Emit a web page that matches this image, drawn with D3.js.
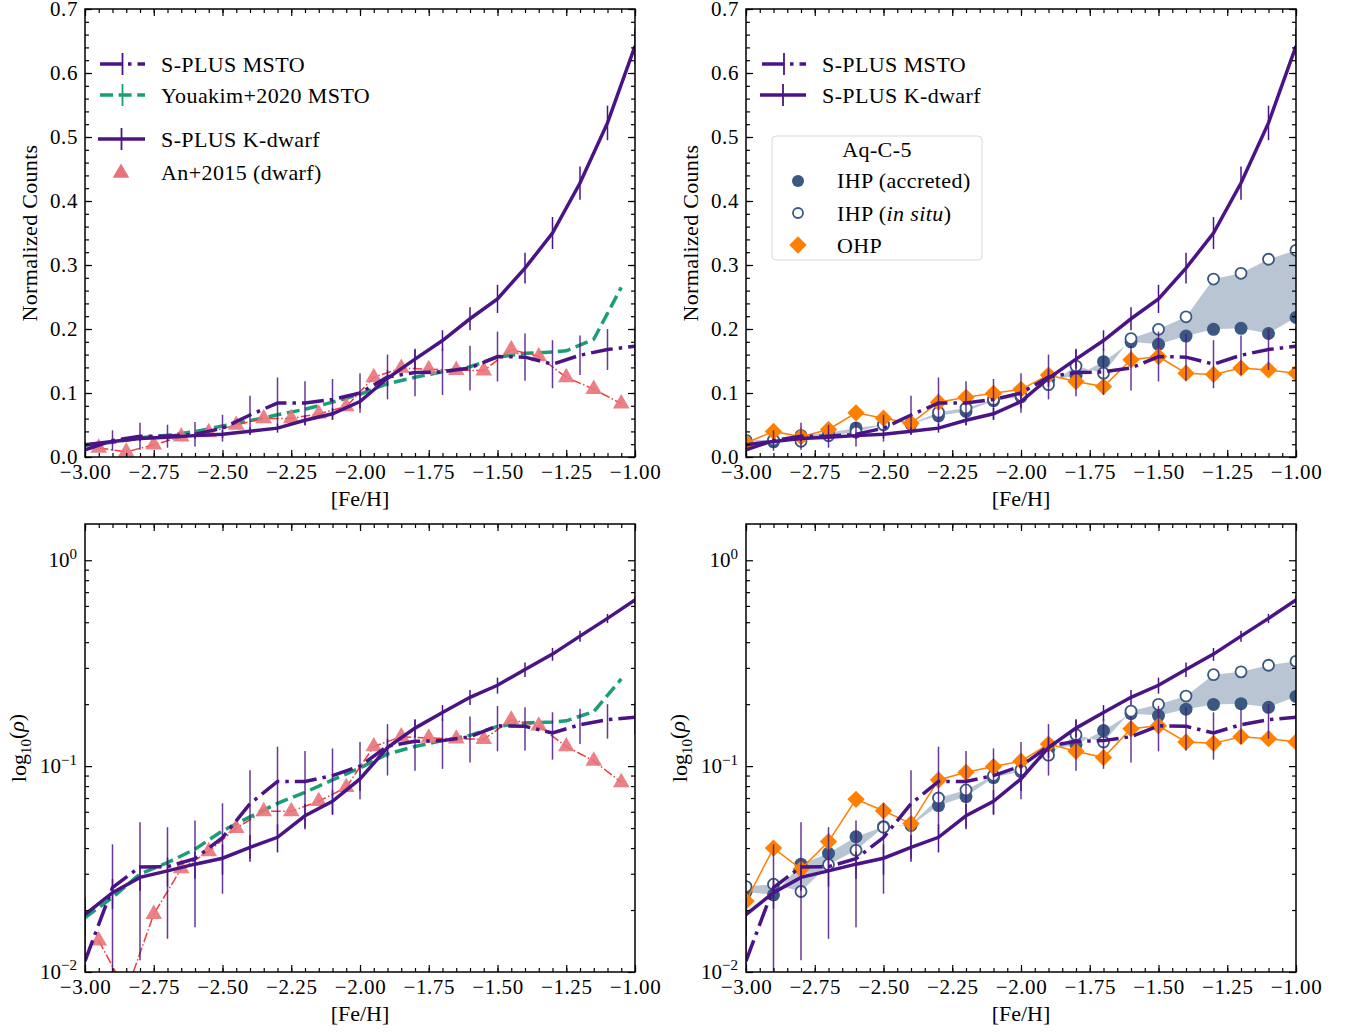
<!DOCTYPE html>
<html>
<head>
<meta charset="utf-8">
<script src="https://cdn.jsdelivr.net/npm/d3@7"></script>
<style>
  body { margin: 0; background: #fff; }
  text { font-family: "Liberation Serif", "Times New Roman", serif; fill: #000; }
</style>
</head>
<body>
<div id="chart"></div>
<script>
// bins in [Fe/H]
var feh = [-3.0, -2.9, -2.8, -2.7, -2.6, -2.5, -2.4, -2.3, -2.2, -2.1, -2.0,
           -1.9, -1.8, -1.7, -1.6, -1.5, -1.4, -1.3, -1.2, -1.1, -1.0];

// S-PLUS K-dwarf
var kdwarf    = [0.019, 0.0243, 0.0288, 0.031, 0.0334, 0.0357, 0.0403, 0.0451, 0.0574, 0.0675, 0.0867,
                 0.123, 0.153, 0.182, 0.216, 0.247, 0.295, 0.35, 0.428, 0.522, 0.642];
var kdwarfErr = [0.004, 0.004, 0.004, 0.005, 0.005, 0.006, 0.006, 0.007, 0.008, 0.009, 0.011,
                 0.013, 0.015, 0.016, 0.018, 0.022, 0.024, 0.025, 0.026, 0.027, 0.028];

// S-PLUS MSTO
var msto    = [0.0113, 0.0257, 0.0324, 0.0325, 0.0355, 0.045, 0.0656, 0.0843, 0.0843, 0.0899, 0.1,
               0.125, 0.132, 0.133, 0.139, 0.157, 0.156, 0.145, 0.159, 0.168, 0.173];
var mstoErr = [0.01, 0.016, 0.021, 0.018, 0.019, 0.021, 0.03, 0.04, 0.034, 0.032, 0.031,
               0.035, 0.037, 0.036, 0.035, 0.039, 0.037, 0.0375, 0.031, 0.032, 0.03];

// Youakim+2020 MSTO
var youFeh = [-3.0, -2.9, -2.8, -2.7, -2.6, -2.5, -2.4, -2.3, -2.2, -2.1, -2.0,
              -1.9, -1.8, -1.7, -1.6, -1.5, -1.4, -1.3, -1.25, -1.15, -1.05];
var youakim = [0.0184, 0.023, 0.0299, 0.034, 0.0395, 0.0485, 0.0567, 0.066, 0.0746, 0.0857, 0.098,
               0.1146, 0.1245, 0.133, 0.141, 0.156, 0.162, 0.164, 0.166, 0.184, 0.265];

// An+2015 (dwarf)
var anFeh = [-2.95, -2.85, -2.75, -2.65, -2.55, -2.45, -2.35, -2.25, -2.15, -2.05,
             -1.95, -1.85, -1.75, -1.65, -1.55, -1.45, -1.35, -1.25, -1.15, -1.05];
var an2015 = [0.0142, 0.008, 0.0191, 0.0318, 0.0385, 0.05, 0.0603, 0.0603, 0.0675, 0.0789,
              0.1245, 0.139, 0.137, 0.1358, 0.135, 0.168, 0.157, 0.1245, 0.106, 0.0834];

// Aq-C-5
var ihpAccreted = [0.0245, 0.0237, 0.0334, 0.0377, 0.0454, 0.0508, 0.0515, 0.0643, 0.0711, 0.088, 0.094,
                   0.12, 0.127, 0.149, 0.18, 0.176, 0.189, 0.1995, 0.201, 0.193, 0.218];
var ihpInsitu   = [0.026, 0.0267, 0.0246, 0.0332, 0.039, 0.0505, 0.052, 0.070, 0.0766, 0.09, 0.096,
                   0.113, 0.142, 0.131, 0.185, 0.1995, 0.219, 0.278, 0.287, 0.309, 0.323];
var ohp         = [0.0221, 0.040, 0.0316, 0.043, 0.069, 0.0607, 0.0526, 0.0857, 0.0933, 0.0995, 0.1057,
                   0.128, 0.118, 0.11, 0.152, 0.157, 0.131, 0.129, 0.139, 0.136, 0.131];

var xTicks = [-3.0, -2.75, -2.5, -2.25, -2.0, -1.75, -1.5, -1.25, -1.0];
var linTicks = [0.0, 0.1, 0.2, 0.3, 0.4, 0.5, 0.6, 0.7];
var logTicks = [0.01, 0.1, 1];
var logTickExp = ["\u22122", "\u22121", "0"];

var purple = "#4a1486";
var green = "#1b9e77";
var red = "#f23a3a";
var triFill = "#e8737a";
var navy = "#3a5880";
var orange = "#ff8000";

var svgWidth = 1351, svgHeight = 1034;
var pw = 550, ph = 448;

var svg = d3.select("#chart")
  .append("svg")
  .attr("width", svgWidth)
  .attr("height", svgHeight);

var panels = [
  {left: 85, top: 9, log: false, aq: false},
  {left: 746, top: 9, log: false, aq: true},
  {left: 85, top: 524, log: true, aq: false},
  {left: 746, top: 524, log: true, aq: true}
];

var xScale = d3.scaleLinear().domain([-3, -1]).range([0, pw]);

function zipPts(xs, ys) {
  return xs.map(function(x, i) { return [x, ys[i]]; });
}

panels.forEach(function(p, pi) {
  var g = svg.append("g").attr("transform", `translate(${p.left}, ${p.top})`);
  var y = p.log
    ? d3.scaleLog().domain([0.01, 1.5]).range([ph, 0])
    : d3.scaleLinear().domain([0, 0.7]).range([ph, 0]);
  var yv = function(v) { return y(p.log ? Math.max(v, 1e-4) : v); };

  g.append("clipPath").attr("id", "clip" + pi)
    .append("rect").attr("width", pw).attr("height", ph);
  var plot = g.append("g").attr("clip-path", `url(#clip${pi})`);

  var line = d3.line().x(d => xScale(d[0])).y(d => yv(d[1]));

  if (p.aq) {
    // shaded band between accreted and in situ
    var area = d3.area()
      .x((d, i) => xScale(feh[i]))
      .y0((d, i) => yv(ihpAccreted[i]))
      .y1((d, i) => yv(ihpInsitu[i]));
    plot.append("path").datum(feh)
      .attr("d", area)
      .attr("fill", navy).attr("fill-opacity", 0.35);

    plot.selectAll(".acc").data(zipPts(feh, ihpAccreted)).enter()
      .append("circle")
      .attr("cx", d => xScale(d[0])).attr("cy", d => yv(d[1]))
      .attr("r", 6.5).attr("fill", navy);
    plot.selectAll(".ins").data(zipPts(feh, ihpInsitu)).enter()
      .append("circle")
      .attr("cx", d => xScale(d[0])).attr("cy", d => yv(d[1]))
      .attr("r", 5.5).attr("fill", "#fff").attr("stroke", navy).attr("stroke-width", 1.8);

    plot.append("path").datum(zipPts(feh, ohp))
      .attr("d", line).attr("fill", "none")
      .attr("stroke", orange).attr("stroke-width", 1.5);
    plot.selectAll(".ohp").data(zipPts(feh, ohp)).enter()
      .append("path")
      .attr("d", d3.symbol().type(d3.symbolSquare).size(150))
      .attr("transform", d => `translate(${xScale(d[0])},${yv(d[1])}) rotate(45)`)
      .attr("fill", orange);
  } else {
    plot.append("path").datum(zipPts(youFeh, youakim))
      .attr("d", line).attr("fill", "none")
      .attr("stroke", green).attr("stroke-width", 3.5)
      .attr("stroke-dasharray", "13,5.6");

    plot.append("path").datum(zipPts(anFeh, an2015))
      .attr("d", line).attr("fill", "none")
      .attr("stroke", red).attr("stroke-width", 1.5)
      .attr("stroke-dasharray", "9.6,2.4,1.5,2.4");
    plot.selectAll(".tri").data(zipPts(anFeh, an2015)).enter()
      .append("path")
      .attr("d", d3.symbol().type(d3.symbolTriangle).size(120))
      .attr("transform", d => `translate(${xScale(d[0])},${yv(d[1])})`)
      .attr("fill", triFill).attr("fill-opacity", 0.9);
  }

  // S-PLUS MSTO with error bars
  plot.selectAll(".merr").data(feh).enter()
    .append("line")
    .attr("x1", d => xScale(d)).attr("x2", d => xScale(d))
    .attr("y1", (d, i) => yv(msto[i] - mstoErr[i]))
    .attr("y2", (d, i) => yv(msto[i] + mstoErr[i]))
    .attr("stroke", purple).attr("stroke-width", 1.5).attr("stroke-opacity", 0.85);
  plot.append("path").datum(zipPts(feh, msto))
    .attr("d", line).attr("fill", "none")
    .attr("stroke", purple).attr("stroke-width", 3.5)
    .attr("stroke-dasharray", "22,6,3.5,6");

  // S-PLUS K-dwarf with error bars
  plot.selectAll(".kerr").data(feh).enter()
    .append("line")
    .attr("x1", d => xScale(d)).attr("x2", d => xScale(d))
    .attr("y1", (d, i) => yv(kdwarf[i] - kdwarfErr[i]))
    .attr("y2", (d, i) => yv(kdwarf[i] + kdwarfErr[i]))
    .attr("stroke", purple).attr("stroke-width", 1.5);
  plot.append("path").datum(zipPts(feh, kdwarf))
    .attr("d", line).attr("fill", "none")
    .attr("stroke", purple).attr("stroke-width", 3.5);

  // ticks, all inward on four sides
  var minorX = d3.range(0, 41).map(i => -3 + i * 0.05);
  g.append("g").attr("transform", `translate(0, ${ph})`)
    .call(d3.axisBottom(xScale).tickValues(minorX).tickSize(-4).tickFormat(""));
  g.append("g")
    .call(d3.axisTop(xScale).tickValues(minorX).tickSize(-4).tickFormat(""));
  g.append("g").attr("class", "xlab").attr("transform", `translate(0, ${ph})`)
    .call(d3.axisBottom(xScale).tickValues(xTicks).tickSize(-7).tickPadding(7).tickFormat(d3.format(".2f")));
  g.append("g")
    .call(d3.axisTop(xScale).tickValues(xTicks).tickSize(-7).tickFormat(""));

  if (p.log) {
    var minorY = [];
    [0.01, 0.1].forEach(function(dec) {
      for (var k = 2; k <= 9; k++) minorY.push(dec * k);
    });
    g.append("g").call(d3.axisLeft(y).tickValues(minorY).tickSize(-4).tickFormat(""));
    g.append("g").attr("transform", `translate(${pw}, 0)`)
      .call(d3.axisRight(y).tickValues(minorY).tickSize(-4).tickFormat(""));
    g.append("g").call(d3.axisLeft(y).tickValues(logTicks).tickSize(-7).tickFormat(""));
    g.append("g").attr("transform", `translate(${pw}, 0)`)
      .call(d3.axisRight(y).tickValues(logTicks).tickSize(-7).tickFormat(""));
    logTicks.forEach(function(v, i) {
      var t = g.append("text")
        .attr("x", -8).attr("y", y(v)).attr("dy", "0.32em")
        .attr("text-anchor", "end").attr("font-size", 21);
      t.append("tspan").text("10");
      t.append("tspan").attr("dy", "-0.55em").attr("font-size", 15).text(logTickExp[i]);
    });
  } else {
    var minorYl = d3.range(0, 36).map(i => i * 0.02);
    g.append("g").call(d3.axisLeft(y).tickValues(minorYl).tickSize(-4).tickFormat(""));
    g.append("g").attr("transform", `translate(${pw}, 0)`)
      .call(d3.axisRight(y).tickValues(minorYl).tickSize(-4).tickFormat(""));
    g.append("g").attr("class", "ylab")
      .call(d3.axisLeft(y).tickValues(linTicks).tickSize(-7).tickPadding(7).tickFormat(d3.format(".1f")));
    g.append("g").attr("transform", `translate(${pw}, 0)`)
      .call(d3.axisRight(y).tickValues(linTicks).tickSize(-7).tickFormat(""));
  }

  g.selectAll(".domain").remove();
  g.selectAll(".tick line").attr("stroke", "#000").attr("stroke-width", 1.2);
  g.selectAll("g").attr("font-family", null).attr("font-size", null);
  g.selectAll(".tick text").attr("font-size", 21).attr("letter-spacing", "0.6px");

  g.append("rect").attr("width", pw).attr("height", ph)
    .attr("fill", "none").attr("stroke", "#000").attr("stroke-width", 1.5);

  // axis labels
  g.append("text")
    .attr("x", pw / 2).attr("y", ph + 49)
    .attr("text-anchor", "middle").attr("font-size", 22)
    .text("[Fe/H]");

  var yl = g.append("text")
    .attr("transform", `translate(${p.log ? -59 : -48}, ${ph / 2}) rotate(-90)`)
    .attr("text-anchor", "middle").attr("font-size", 22);
  if (p.log) {
    yl.append("tspan").text("log");
    yl.append("tspan").attr("dy", "0.3em").attr("font-size", 15).text("10");
    yl.append("tspan").attr("dy", "-0.3em").text("(");
    yl.append("tspan").attr("font-style", "italic").text("\u03c1");
    yl.append("tspan").text(")");
  } else {
    yl.attr("letter-spacing", "0.3px").text("Normalized Counts");
  }
});

// ---------- legends ----------
function errHandle(g, x0, x1, yy, color, dash, lw) {
  g.append("line").attr("x1", x0).attr("x2", x1).attr("y1", yy).attr("y2", yy)
    .attr("stroke", color).attr("stroke-width", lw)
    .attr("stroke-dasharray", dash);
  g.append("line").attr("x1", (x0 + x1) / 2).attr("x2", (x0 + x1) / 2)
    .attr("y1", yy - 11).attr("y2", yy + 11)
    .attr("stroke", color).attr("stroke-width", 1.8);
}
function legText(g, x, yy, s) {
  return g.append("text").attr("x", x).attr("y", yy).attr("dy", "0.35em")
    .attr("font-size", 22).attr("letter-spacing", "0.4px").text(s);
}

var leg1 = svg.append("g");
errHandle(leg1, 100, 145, 64, purple, "22,6,3.5,6", 3.5);
legText(leg1, 161, 64, "S-PLUS MSTO");
errHandle(leg1, 100, 145, 95, green, "13,5.6", 3.5);
legText(leg1, 161, 95, "Youakim+2020 MSTO");
errHandle(leg1, 98, 145, 139, purple, null, 3.5);
legText(leg1, 161, 139, "S-PLUS K-dwarf");
leg1.append("path")
  .attr("d", d3.symbol().type(d3.symbolTriangle).size(120))
  .attr("transform", "translate(121, 173)")
  .attr("fill", triFill);
legText(leg1, 161, 172, "An+2015 (dwarf)");

var leg2 = svg.append("g");
errHandle(leg2, 762, 806, 64, purple, "22,6,3.5,6", 3.5);
legText(leg2, 822, 64, "S-PLUS MSTO");
errHandle(leg2, 760, 806, 95, purple, null, 3.5);
legText(leg2, 822, 95, "S-PLUS K-dwarf");

var leg3 = svg.append("g");
leg3.append("rect").attr("x", 772).attr("y", 136).attr("width", 210).attr("height", 124)
  .attr("rx", 4).attr("fill", "#fff").attr("fill-opacity", 0.8)
  .attr("stroke", "#d8d8d8").attr("stroke-width", 1);
leg3.append("text").attr("x", 877).attr("y", 149).attr("dy", "0.35em")
  .attr("text-anchor", "middle").attr("font-size", 22).attr("letter-spacing", "0.4px").text("Aq-C-5");
leg3.append("circle").attr("cx", 798).attr("cy", 181).attr("r", 6).attr("fill", navy);
legText(leg3, 837, 180, "IHP (accreted)");
leg3.append("circle").attr("cx", 798).attr("cy", 213).attr("r", 5).attr("fill", "#fff")
  .attr("stroke", navy).attr("stroke-width", 1.8);
var t3 = legText(leg3, 837, 213, "");
t3.append("tspan").text("IHP (");
t3.append("tspan").attr("font-style", "italic").text("in situ");
t3.append("tspan").text(")");
leg3.append("path")
  .attr("d", d3.symbol().type(d3.symbolSquare).size(150))
  .attr("transform", "translate(798, 245) rotate(45)")
  .attr("fill", orange);
legText(leg3, 837, 245, "OHP");
</script>
</body>
</html>
